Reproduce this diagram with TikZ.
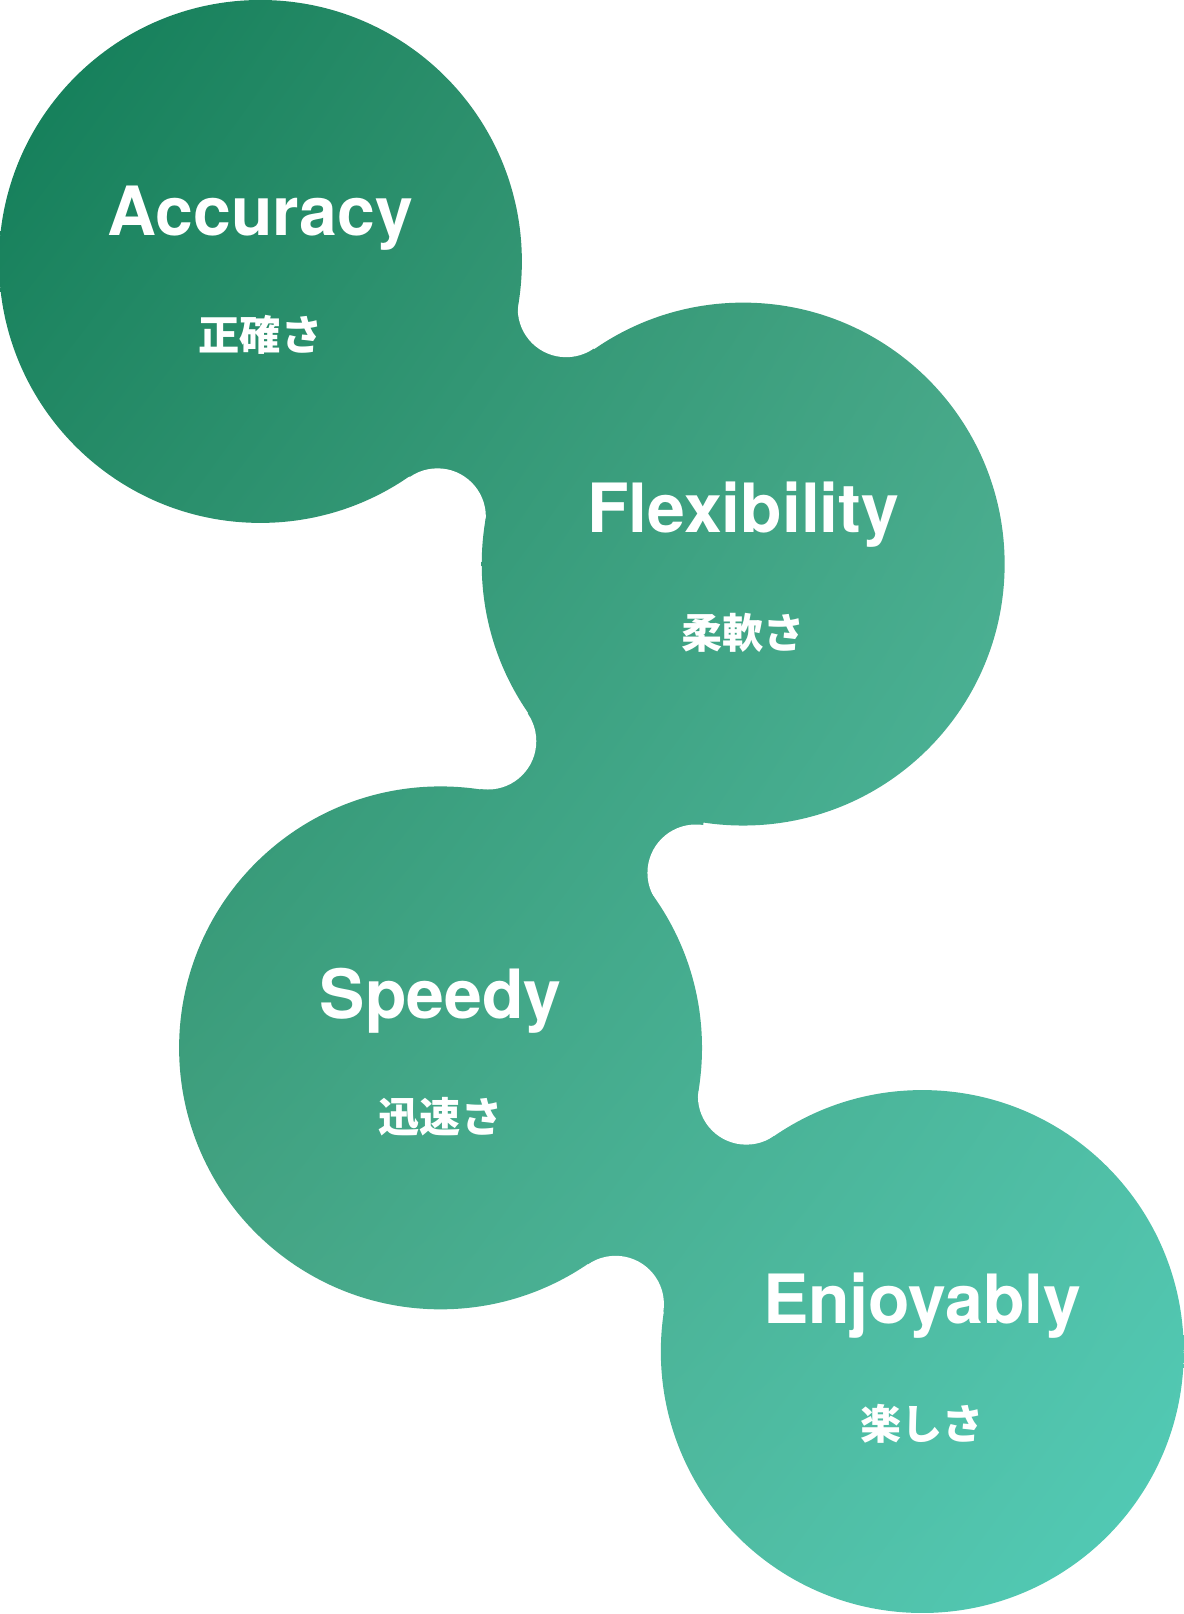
\documentclass[tikz,border=0pt]{standalone}
\usepackage{fontspec}
\usetikzlibrary{shadings}
\setmainfont{TeX Gyre Heros}
\newfontfamily\cjk{Noto Sans CJK JP}
\begin{document}
\begin{tikzpicture}[x=1pt,y=-1pt]
\definecolor{cA}{HTML}{107C57}
\definecolor{cB}{HTML}{52CDB9}
\definecolor{cM}{HTML}{4FA684}
\tikzset{
  en/.style={text=white,font=\fontsize{66}{66}\selectfont\bfseries},
  jp/.style={text=white,font=\cjk\fontsize{40}{40}\selectfont\bfseries},
  grad/.style={upper left=cA,lower right=cB,upper right=cM,lower left=cM}
}
\useasboundingbox (0,0) rectangle (1150,1568);
\coordinate (A) at (253,254);
\coordinate (B) at (722,548);
\coordinate (S) at (428,1018);
\coordinate (E) at (896,1313);
\coordinate (s1) at (550,300);
\coordinate (s2) at (425,502);
\coordinate (s3) at (474,720);
\coordinate (s4) at (676,848);
\coordinate (s5) at (725,1065);
\coordinate (s6) at (598,1267);
\newcommand{\gradshape}[1]{\begin{scope}\clip #1; \shade[grad] (0,0) rectangle (1150,1568);\end{scope}}
\gradshape{(A) -- (s1) -- (B) -- (s2) -- cycle}
\gradshape{(B) -- (s4) -- (S) -- (s3) -- cycle}
\gradshape{(S) -- (s5) -- (E) -- (s6) -- cycle}
\foreach \s in {s1,s2,s3,s4,s5,s6} \fill[white] (\s) circle (47);
\gradshape{(A) circle (254)}
\gradshape{(B) circle (254)}
\gradshape{(S) circle (254)}
\gradshape{(E) circle (254)}
\node[en] (tA) at (253,212) {Accuracy};
\node[jp] (jA) at (253,325) {正確さ};
\node[en] (tB) at (722,500) {Flexibility};
\node[jp] (jB) at (722,615) {柔軟さ};
\node[en] (tS) at (428,972) {Speedy};
\node[jp] (jS) at (428,1085) {迅速さ};
\node[en] (tE) at (896,1268) {Enjoyably};
\node[jp] (jE) at (896,1383) {楽しさ};
\end{tikzpicture}
\end{document}
